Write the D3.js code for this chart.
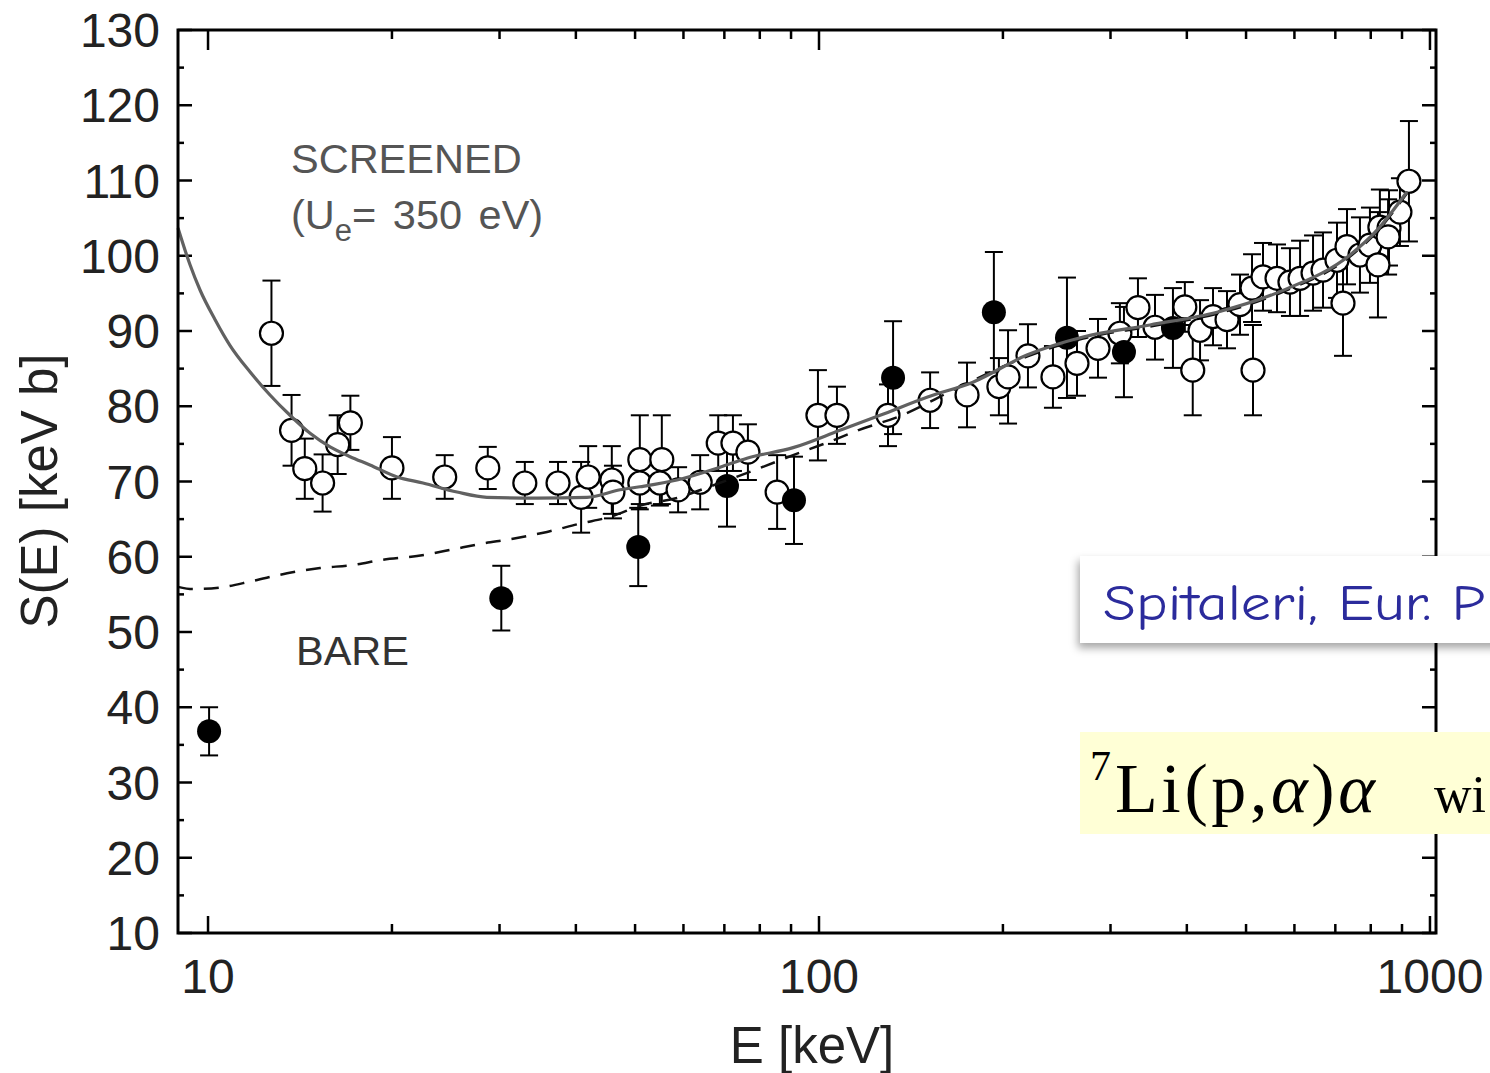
<!DOCTYPE html>
<html lang="en">
<head>
  <meta charset="UTF-8">
  <title>S(E) 7Li(p,a)a</title>
  <script src="https://d3js.org/d3.v7.min.js"></script>
  <style>
    html, body { margin: 0; padding: 0; background: #fff; overflow: hidden; }
    svg { display: block; }
    .tick-label { font-family: "Liberation Sans", Arial, sans-serif; font-size: 48px; fill: #222; }
    .axis-title { font-family: "Liberation Sans", Arial, sans-serif; font-size: 51px; fill: #222; }
    .note { font-family: "Liberation Sans", Arial, sans-serif; font-size: 41.5px; }
  </style>
</head>
<body>
  <svg id="chart" width="1490" height="1073"></svg>
  <script>
    // open circles (data with error bars)
    const openE = [12.7, 13.7, 14.4, 15.4, 16.3, 17.1, 20.0, 24.4, 28.7, 33.0,
      37.4, 40.8, 41.9, 45.8, 46.0, 50.9, 50.9, 55.3, 54.9, 58.8,
      63.9, 68.4, 72.3, 76.5, 85.4, 99.6, 107, 129.7, 152, 174.7,
      197, 203.9, 219.8, 241.5, 264.4, 286.2, 310.8, 332.7, 354.8, 397,
      409, 420.4, 441.5, 465.4, 488.7, 513.3, 511.4, 533, 561.9, 590,
      612.9, 643.6, 668.3, 704.4, 720.5, 731.5, 768.1, 797.6, 822, 828,
      857, 854, 893, 923.8];
    const openS = [89.7, 76.8, 71.7, 69.8, 74.9, 77.8, 71.8, 70.6, 71.8, 69.8,
      69.8, 67.9, 70.6, 70.2, 68.6, 72.9, 69.8, 72.9, 69.8, 68.9,
      69.9, 75.1, 75.1, 73.9, 68.6, 78.8, 78.8, 78.8, 80.8, 81.5,
      82.6, 83.9, 86.7, 83.9, 85.7, 87.7, 89.7, 93.1, 90.5, 93.2,
      84.8, 90.1, 91.9, 91.5, 93.5, 84.8, 95.7, 97.2, 97.0, 96.5,
      97.0, 97.7, 98.1, 99.4, 93.7, 101.2, 100.1, 101.4, 98.8, 103.8,
      103.7, 102.5, 105.8, 109.9];
    const openErr = [7, 4.7, 4, 3.8, 3.9, 3.6, 4.1, 2.9, 2.8, 2.8,
      2.8, 4.7, 4.1, 4.5, 3.5, 5.9, 3.5, 5.9, 3, 3,
      3.6, 3.7, 3.7, 3.7, 4.9, 6, 3.8, 4.1, 3.7, 4.3,
      3.8, 6.2, 4.2, 4.1, 4.3, 3.9, 4, 3.9, 4.3, 3.3,
      6, 4, 3.8, 3.8, 4, 6, 4.5, 4.5, 4.5, 4.5,
      5, 5, 5, 5, 7, 5, 5, 5, 7, 5,
      5, 5, 4.5, 8];

    // filled circles
    const fullE = [10.04, 30.2, 50.6, 70.7, 91.0, 132.2, 193.3, 254.6, 315.6, 379.6];
    const fullS = [36.8, 54.5, 61.3, 69.4, 67.5, 83.8, 92.5, 89.1, 87.2, 90.4];
    const fullErr = [3.2, 4.3, 5.2, 5.4, 5.8, 7.5, 8, 8, 6, 5.3];

    // screened curve (Ue = 350 eV)
    const scrE = [8.93, 9.344, 9.703, 10.27, 10.86, 11.72, 12.63, 13.62, 14.69, 15.84,
      17.08, 18.41, 20.39, 22.48, 25.56, 28.61, 34.55, 41.72, 47.25, 50.93,
      58.55, 68.87, 76.23, 90.7, 108.2, 125.9, 150.2, 178.6, 218.9, 270.5,
      348.1, 448.2, 574.7, 739.8, 819, 917];
    const scrS = [103.7, 98.8, 95.45, 91.5, 88.1, 84.55, 81.5, 78.8, 76.4, 74.6,
      73.3, 72.2, 70.6, 69.8, 68.6, 67.9, 67.8, 67.9, 68.9, 69.3,
      70.2, 71.9, 73.1, 74.5, 76.8, 78.8, 81.2, 83.2, 86.8, 89.2,
      90.8, 92.5, 95.4, 100.1, 103.4, 108.5];

    // bare curve
    const bareE = [8.93, 9.45, 10.46, 11.85, 13.47, 15.25, 17.28, 19.34, 21.98,
      24.89, 27.87, 31.56, 35.88, 40.63, 45.5, 51.5, 58.55, 65.1, 80.1,
      90.7, 103.4, 115.8, 135.7, 168.2, 218.9, 270.5, 348.1, 448.2, 574.7,
      739.8, 819, 917];
    const bareS = [56.0, 55.7, 55.9, 56.8, 57.8, 58.5, 58.9, 59.6, 60.1,
      60.9, 61.7, 62.4, 63.3, 64.4, 65.3, 66.9, 67.8, 69.1, 71.8,
      73.5, 75.2, 76.8, 78.7, 82.4, 86.6, 89.0, 90.6, 92.3, 95.2,
      99.9, 103.2, 108.3];

    const xMajor = [10, 100, 1000];
    const xLabels = ["10", "100", "1000"];
    const yTicks = [10, 20, 30, 40, 50, 60, 70, 80, 90, 100, 110, 120, 130];

    const svg = d3.select("#chart");
    svg.append("rect").attr("width", 1490).attr("height", 1073).attr("fill", "#fff");

    const plotL = 178, plotR = 1436, plotT = 30, plotB = 933;
    const x = d3.scaleLog().domain([8.93, 1023]).range([plotL, plotR]);
    const y = d3.scaleLinear().domain([10, 130]).range([plotB, plotT]);

    // ticks (inward on all four sides)
    const ticks = svg.append("g").attr("stroke", "#000").attr("stroke-width", 2.5);
    const xMinor = [];
    [10, 100].forEach(d => { for (let k = 2; k <= 9; k++) xMinor.push(d * k); });
    xMajor.forEach(v => {
      ticks.append("line").attr("x1", x(v)).attr("x2", x(v)).attr("y1", plotB).attr("y2", plotB - 17);
      ticks.append("line").attr("x1", x(v)).attr("x2", x(v)).attr("y1", plotT).attr("y2", plotT + 20);
    });
    xMinor.forEach(v => {
      ticks.append("line").attr("x1", x(v)).attr("x2", x(v)).attr("y1", plotB).attr("y2", plotB - 9);
      ticks.append("line").attr("x1", x(v)).attr("x2", x(v)).attr("y1", plotT).attr("y2", plotT + 9);
    });
    yTicks.forEach(v => {
      ticks.append("line").attr("x1", plotL).attr("x2", plotL + 14).attr("y1", y(v)).attr("y2", y(v));
      ticks.append("line").attr("x1", plotR).attr("x2", plotR - 14).attr("y1", y(v)).attr("y2", y(v));
      if (v < 130) {
        ticks.append("line").attr("x1", plotL).attr("x2", plotL + 6).attr("y1", y(v + 5)).attr("y2", y(v + 5));
        ticks.append("line").attr("x1", plotR).attr("x2", plotR - 6).attr("y1", y(v + 5)).attr("y2", y(v + 5));
      }
    });

    // tick labels
    svg.append("g").selectAll("text").data(yTicks).enter().append("text")
      .attr("class", "tick-label")
      .attr("x", 160).attr("y", d => y(d) + 17)
      .attr("text-anchor", "end")
      .text(d => d);
    svg.append("g").selectAll("text").data(xMajor).enter().append("text")
      .attr("class", "tick-label")
      .attr("x", d => x(d)).attr("y", 993)
      .attr("text-anchor", "middle")
      .text((d, i) => xLabels[i]);

    // axis titles
    svg.append("text").attr("class", "axis-title")
      .attr("transform", "translate(57,491) rotate(-90)")
      .attr("text-anchor", "middle")
      .text("S(E) [keV b]");
    svg.append("text").attr("class", "axis-title")
      .attr("x", 812).attr("y", 1063)
      .attr("text-anchor", "middle")
      .text("E [keV]");

    // annotations
    svg.append("text").attr("class", "note").attr("fill", "#555")
      .attr("x", 291).attr("y", 173).text("SCREENED");
    const ue = svg.append("text").attr("class", "note").attr("fill", "#555")
      .attr("x", 291).attr("y", 229).attr("word-spacing", 5);
    ue.append("tspan").text("(U");
    ue.append("tspan").attr("font-size", 31).attr("dy", 12).text("e");
    ue.append("tspan").attr("dy", -12).text("= 350 eV)");
    svg.append("text").attr("class", "note").attr("fill", "#333")
      .attr("x", 296).attr("y", 665).text("BARE");

    const plot = svg.append("g");

    // error bars
    function errorBars(E, S, Err) {
      const g = plot.append("g").attr("stroke", "#000").attr("stroke-width", 2);
      E.forEach((e, i) => {
        const cx = x(e), y1 = y(S[i] + Err[i]), y2 = y(S[i] - Err[i]);
        g.append("line").attr("x1", cx).attr("x2", cx).attr("y1", y1).attr("y2", y2);
        g.append("line").attr("x1", cx - 9).attr("x2", cx + 9).attr("y1", y1).attr("y2", y1);
        g.append("line").attr("x1", cx - 9).attr("x2", cx + 9).attr("y1", y2).attr("y2", y2);
      });
    }
    errorBars(openE, openS, openErr);
    errorBars(fullE, fullS, fullErr);

    plot.append("g").selectAll("circle").data(openE).enter().append("circle")
      .attr("cx", d => x(d)).attr("cy", (d, i) => y(openS[i]))
      .attr("r", 11.5)
      .attr("fill", "#fff").attr("stroke", "#000").attr("stroke-width", 2.2);
    plot.append("g").selectAll("circle").data(fullE).enter().append("circle")
      .attr("cx", d => x(d)).attr("cy", (d, i) => y(fullS[i]))
      .attr("r", 12)
      .attr("fill", "#000");

    // curves
    const line = d3.line().x(d => x(d[0])).y(d => y(d[1])).curve(d3.curveMonotoneX);
    plot.append("path")
      .datum(bareE.map((e, i) => [e, bareS[i]]))
      .attr("d", line)
      .attr("fill", "none").attr("stroke", "#111").attr("stroke-width", 2.5)
      .attr("stroke-dasharray", "15,11");
    plot.append("path")
      .datum(scrE.map((e, i) => [e, scrS[i]]))
      .attr("d", line)
      .attr("fill", "none").attr("stroke", "#616161").attr("stroke-width", 3.2);

    // frame
    svg.append("rect")
      .attr("x", plotL).attr("y", plotT).attr("width", plotR - plotL).attr("height", plotB - plotT)
      .attr("fill", "none").attr("stroke", "#000").attr("stroke-width", 3);

    // reference box (cut by the slide edge)
    const defs = svg.append("defs");
    const f = defs.append("filter").attr("id", "shadow")
      .attr("x", "-10%").attr("y", "-20%").attr("width", "130%").attr("height", "160%");
    f.append("feDropShadow").attr("dx", -2).attr("dy", 5).attr("stdDeviation", 4)
      .attr("flood-color", "#000").attr("flood-opacity", 0.35);
    svg.append("rect").attr("x", 1080).attr("y", 556).attr("width", 440).attr("height", 87)
      .attr("fill", "#fff").attr("filter", "url(#shadow)");
    svg.append("text")
      .attr("x", 1103).attr("y", 620)
      .attr("font-family", "'Comic Sans MS', 'Comic Neue', 'Open Sans', sans-serif")
      .attr("font-size", 50).attr("fill", "#2b2b9c")
      .attr("textLength", 382).attr("lengthAdjust", "spacingAndGlyphs")
      .text("Spitaleri, Eur. P");

    // reaction box
    svg.append("rect").attr("x", 1080).attr("y", 732).attr("width", 440).attr("height", 102)
      .attr("fill", "#ffffd6");
    const serif = "'Liberation Serif', 'Times New Roman', serif";
    svg.append("text")
      .attr("x", 1090).attr("y", 780)
      .attr("font-family", serif).attr("font-size", 42).attr("fill", "#000")
      .text("7");
    const rx = svg.append("text")
      .attr("x", 1115).attr("y", 812)
      .attr("font-family", serif).attr("font-size", 70).attr("fill", "#000")
      .attr("textLength", 260).attr("lengthAdjust", "spacing");
    rx.append("tspan").text("Li(p,");
    rx.append("tspan").attr("font-style", "italic").text("α");
    rx.append("tspan").text(")");
    rx.append("tspan").attr("font-style", "italic").text("α");
    svg.append("text")
      .attr("x", 1434).attr("y", 812)
      .attr("font-family", serif).attr("font-size", 52).attr("fill", "#000")
      .text("wi");
  </script>
</body>
</html>
